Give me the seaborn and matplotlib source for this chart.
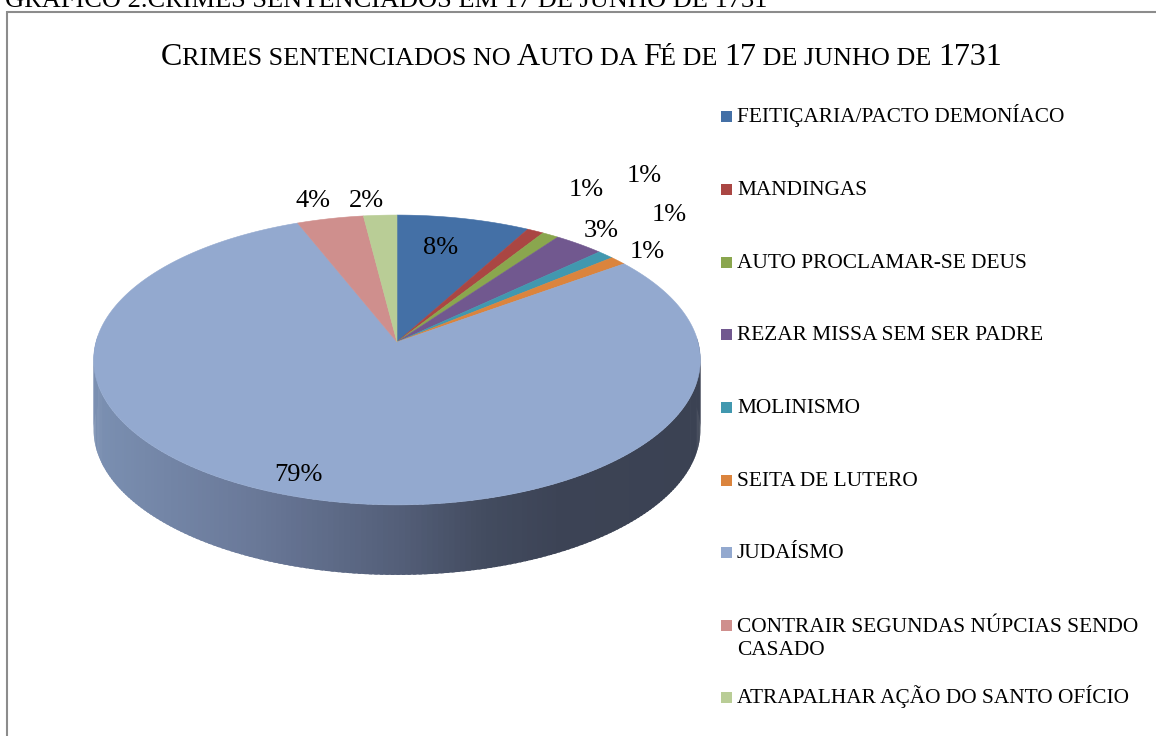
import numpy as np
import matplotlib
matplotlib.use("Agg")
import matplotlib.pyplot as plt
import seaborn as sns
from matplotlib.patches import Rectangle

# Data
crimes = [
    "FEITIÇARIA/PACTO DEMONÍACO",
    "MANDINGAS",
    "AUTO PROCLAMAR-SE DEUS",
    "REZAR MISSA SEM SER PADRE",
    "MOLINISMO",
    "SEITA DE LUTERO",
    "JUDAÍSMO",
    "CONTRAIR SEGUNDAS NÚPCIAS SENDO\nCASADO",
    "ATRAPALHAR AÇÃO DO SANTO OFÍCIO",
]
percent = [8, 1, 1, 3, 1, 1, 79, 4, 2]
# title is set in small caps (lowercase letters drawn as small capitals)
title = "Crimes sentenciados no Auto da Fé de 17 de junho de 1731"
caption = "GRÁFICO 2.CRIMES SENTENCIADOS EM 17 DE JUNHO DE 1731"

palette = sns.color_palette([
    "#4470A6", "#AA4643", "#8AA64E", "#71588F", "#4198AF",
    "#DB843D", "#93A9CF", "#CF8F8D", "#B9CD96",
])

# Layout (pixels)
CX, CY = 397, 342          # pie apex
RX, RY = 301, 142.7        # radii of the top face
PERSP = 0.124              # perspective shrink toward the back
DEPTH = 70                 # wall height
label_pos = [(441, 254), (586, 196), (644, 182), (601, 237), (669, 221),
             (647, 258), (298, 481), (313, 207), (366, 207)]
legend_base = [122, 195, 268, 340, 413, 486, 558, 631, 703]
LINE_H = 24

sns.set_theme(style="white")
plt.rcParams["font.family"] = ["Liberation Serif", "DejaVu Serif"]

fig = plt.figure(figsize=(11.56, 7.36), dpi=100)
ax = fig.add_axes([0, 0, 1, 1])
ax.set_xlim(0, 1156)
ax.set_ylim(736, 0)
ax.axis("off")


def project(phi_deg, r=1.0):
    phi = np.radians(phi_deg)
    u = r * np.sin(phi)
    v = r * np.cos(phi)
    p = 1 / (1 + PERSP * v)
    return CX + RX * u * p, CY - RY * v * p


# side wall (front half) with left-to-right shading
wall_x = [92, 250, 400, 480, 560, 700]
wall_c = np.array([matplotlib.colors.to_rgb(c) for c in
                   ["#7B90B2", "#6A7999", "#535E78", "#434C60", "#3C4355", "#3B4253"]])
phis = np.linspace(88, 272, 200)
step = phis[1] - phis[0]
for a in phis[:-1]:
    # slight overlap between strips instead of outlines
    seg = np.linspace(a, a + step * 1.6, 4)
    xs, ys = project(seg)
    col = [np.interp(xs.mean(), wall_x, wall_c[:, k]) for k in range(3)]
    ax.fill(np.r_[xs, xs[::-1]], np.r_[ys, ys[::-1] + DEPTH], color=col, lw=0)

# top face
edges = np.concatenate([[0], np.cumsum(percent)]) / sum(percent) * 360
for i in range(len(percent)):
    ph = np.linspace(edges[i], edges[i + 1], int(edges[i + 1] - edges[i]) + 3)
    xs, ys = project(ph)
    ax.fill(np.r_[CX, xs], np.r_[CY, ys], color=palette[i], ec=palette[i],
            lw=0.4, joinstyle="round")

for (x, y), p in zip(label_pos, percent):
    ax.text(x, y, f"{p}%", fontsize=19, ha="center", va="baseline", color="black")

# legend
for i, name in enumerate(crimes):
    yb = legend_base[i]
    extra = name.count("\n") * LINE_H
    ax.add_patch(Rectangle((721, yb - 11), 11, 11, color=palette[i], lw=0))
    ax.text(737, yb + extra, name, fontsize=15.4, va="baseline", ha="left",
            color="black", linespacing=1.32)

fig.canvas.draw()
renderer = fig.canvas.get_renderer()

# small caps title, built from runs of big / small letters
BIG, SMALL = 23, 18.8
pieces = []
for ch in title:
    size = SMALL if ch.islower() or ch == " " else BIG
    s = ch.upper()
    if pieces and pieces[-1][1] == size:
        pieces[-1] = (pieces[-1][0] + s, size)
    else:
        pieces.append((s, size))


def text_width(s, size):
    # measure with guard characters so spaces are counted
    t1 = ax.text(0, 0, "|" + s + "|", fontsize=size)
    t2 = ax.text(0, 0, "||", fontsize=size)
    w = t1.get_window_extent(renderer).width - t2.get_window_extent(renderer).width
    t1.remove()
    t2.remove()
    return w


widths = [text_width(s, sz) for s, sz in pieces]
x = 581 - sum(widths) / 2
for (s, sz), w in zip(pieces, widths):
    ax.text(x, 65, s, fontsize=sz, va="baseline", ha="left", color="black")
    x += w

ax.text(5, 7, caption, fontsize=19, va="baseline", ha="left", color="black")

# chart frame
ax.plot([7, 7], [11, 736], color="#8C8C8C", lw=1.5, solid_capstyle="butt")
ax.plot([7, 1156], [12, 12], color="#8C8C8C", lw=1.5, solid_capstyle="butt")

fig.savefig("out.png", dpi=100, facecolor="white")
